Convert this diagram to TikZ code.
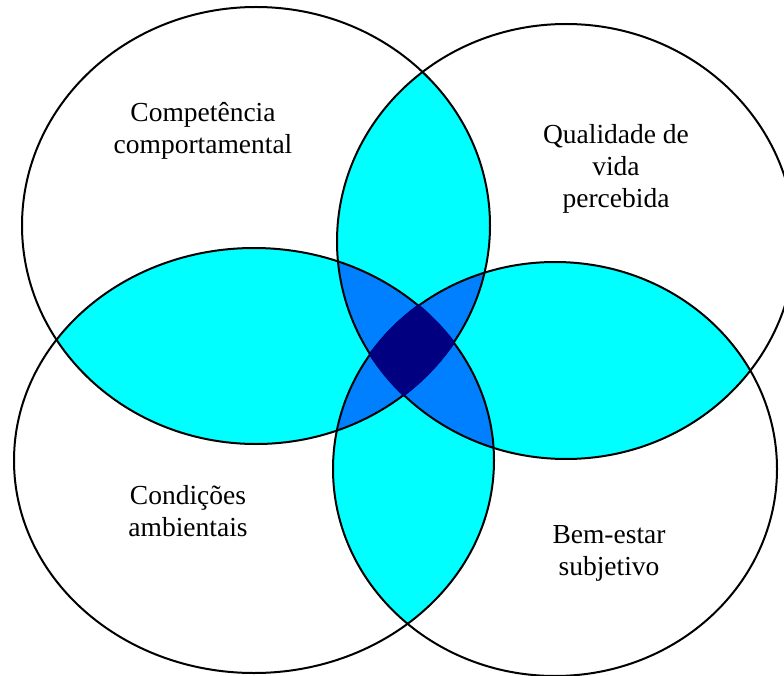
\documentclass[tikz,border=0pt]{standalone}
\usepackage{fontspec}
\setmainfont{Liberation Serif}
\definecolor{lenscyan}{RGB}{0,255,255}
\definecolor{tripleblue}{RGB}{0,128,255}
\definecolor{corenavy}{RGB}{0,0,128}
% ellipses (pixel coordinates, y downwards)
\def\eTL{(256,225.5) ellipse [x radius=234pt, y radius=218.5pt]}
\def\eTR{(566,241.5) ellipse [x radius=229pt, y radius=217.5pt]}
\def\eBL{(254,460.5) ellipse [x radius=240pt, y radius=212.5pt]}
\def\eBR{(555,469) ellipse [x radius=222pt, y radius=207pt]}
% slightly enlarged copies, to cover the strokes round the core
\def\eTLx{(256,225.5) ellipse [x radius=235.2pt, y radius=219.7pt]}
\def\eTRx{(566,241.5) ellipse [x radius=230.2pt, y radius=218.7pt]}
\def\eBLx{(254,460.5) ellipse [x radius=241.2pt, y radius=213.7pt]}
\def\eBRx{(555,469) ellipse [x radius=223.2pt, y radius=208.2pt]}
\begin{document}
\begin{tikzpicture}[x=1pt,y=-1pt,
  outline/.style={draw=black,line width=2pt},
  venntext/.style={font=\fontsize{27.5}{32}\selectfont, align=center, text=black, inner sep=0pt}]
\useasboundingbox (0,0) rectangle (784,676);
\clip (0,0) rectangle (784,676);
\fill[white] (0,0) rectangle (784,676);
% pairwise overlaps
\begin{scope}\clip \eTL; \fill[lenscyan] \eTR; \fill[lenscyan] \eBL; \fill[lenscyan] \eBR; \end{scope}
\begin{scope}\clip \eTR; \fill[lenscyan] \eBL; \fill[lenscyan] \eBR; \end{scope}
\begin{scope}\clip \eBL; \fill[lenscyan] \eBR; \end{scope}
% triple overlaps
\begin{scope}\clip \eTL; \clip \eTR; \fill[tripleblue] \eBL; \fill[tripleblue] \eBR; \end{scope}
\begin{scope}\clip \eBL; \clip \eBR; \fill[tripleblue] \eTL; \fill[tripleblue] \eTR; \end{scope}
% outlines
\draw[outline] \eTL;
\draw[outline] \eTR;
\draw[outline] \eBL;
\draw[outline] \eBR;
% four-way overlap, drawn over the outlines
\begin{scope}\clip \eTLx; \clip \eTRx; \clip \eBLx; \fill[corenavy] \eBRx; \end{scope}
% labels
\node[venntext] (compet) at (203,131) {Competência\\comportamental};
\node[venntext] (qualid) at (616,169) {Qualidade de\\vida\\percebida};
\node[venntext] (condic) at (188,511) {Condições\\ambientais};
\node[venntext] (bemest) at (609,553) {Bem-estar\\subjetivo};
\end{tikzpicture}
\end{document}
